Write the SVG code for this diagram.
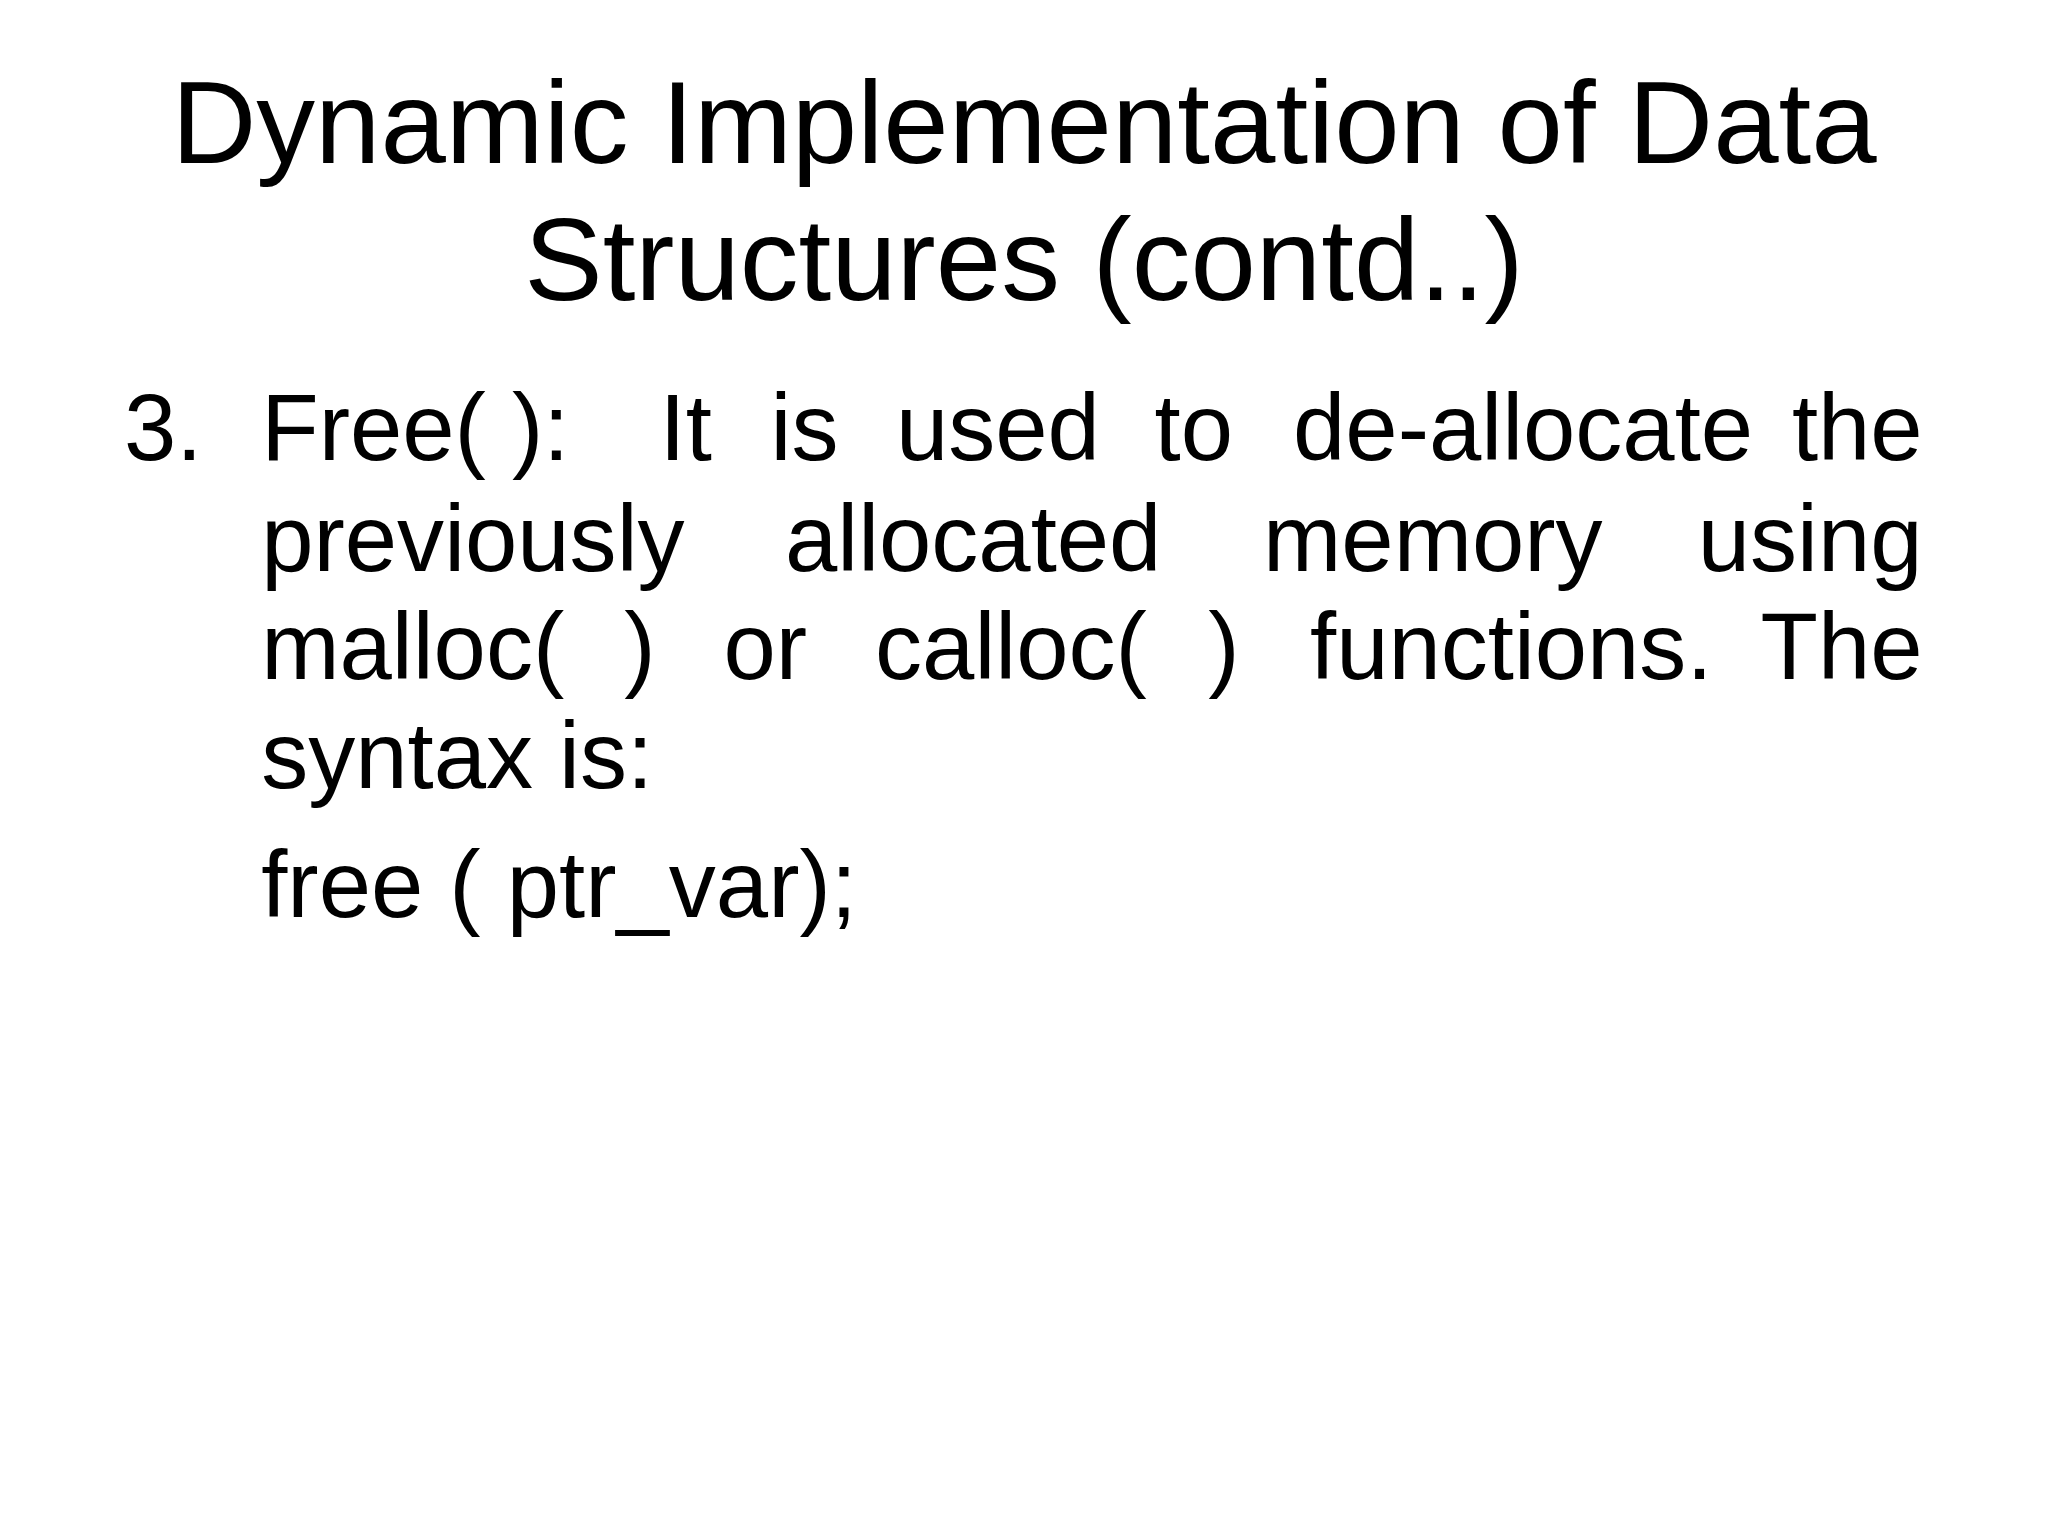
<svg xmlns="http://www.w3.org/2000/svg" width="2048" height="1536" viewBox="0 0 2048 1536">
<style>
text{font-family:"Liberation Sans",Arial,sans-serif;fill:#000}
.t{font-size:90px;text-anchor:middle}
.b{font-size:72px}
.e{text-anchor:end}
</style>
<rect width="2048" height="1536" fill="#fff"/>
<g transform="scale(1.30612)">
<g id="title">
<text class="t" x="784" y="125">Dynamic Implementation of Data</text>
<text class="t" x="784" y="230">Structures (contd..)</text>
</g>
<g id="body">
<text class="b" x="95" y="352">3.</text>
<text class="b" x="200" y="352">Free(  ):</text>
<text class="b" x="505" y="352">It</text>
<text class="b" x="590" y="352">is</text>
<text class="b" x="686" y="352">used</text>
<text class="b" x="884" y="352">to</text>
<text class="b" x="990" y="352">de-allocate</text>
<text class="b e" x="1472" y="352">the</text>
<text class="b" x="200" y="437">previously</text>
<text class="b" x="601" y="437">allocated</text>
<text class="b" x="967" y="437">memory</text>
<text class="b e" x="1472" y="437">using</text>
<text class="b" x="200" y="520">malloc(</text>
<text class="b" x="478" y="520">)</text>
<text class="b" x="554" y="520">or</text>
<text class="b" x="670" y="520">calloc(</text>
<text class="b" x="925" y="520">)</text>
<text class="b" x="1003" y="520">functions.</text>
<text class="b e" x="1472" y="520">The</text>
<text class="b" x="200" y="603">syntax is:</text>
<text class="b" x="200" y="702">free ( ptr_var);</text>
</g>
</g>
</svg>
